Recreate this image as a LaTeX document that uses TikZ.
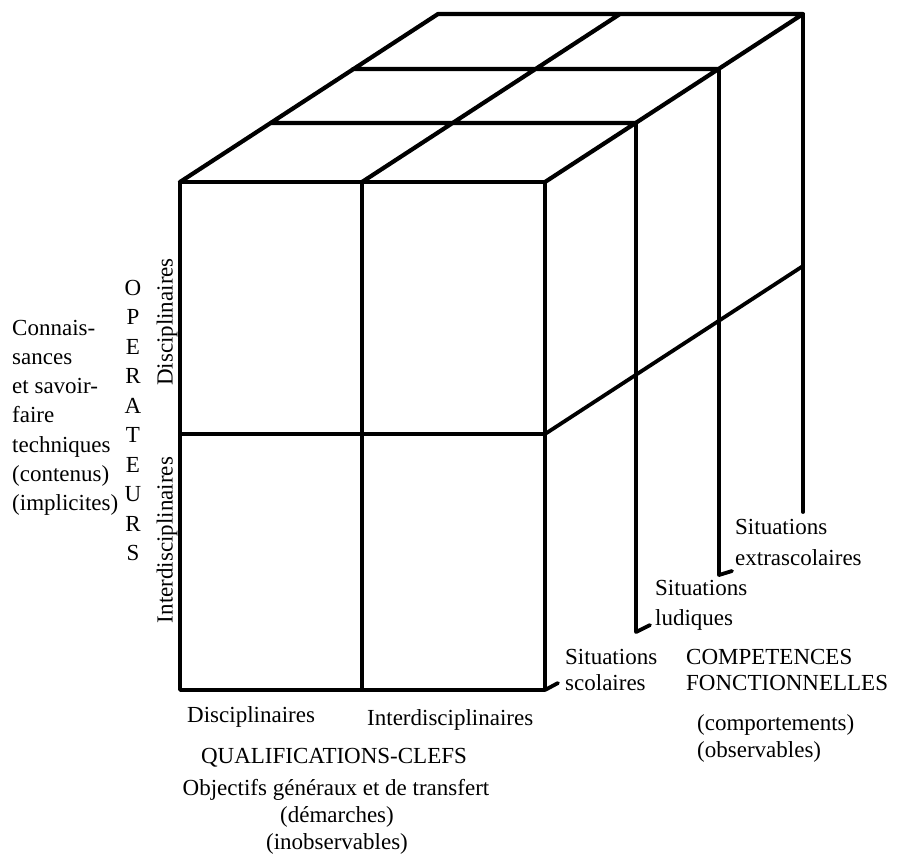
\documentclass[tikz,border=0pt]{standalone}
\usepackage{fontspec}
\setmainfont{Liberation Serif}
\tikzset{
  edge/.style={line width=3.8pt, line cap=round, line join=round},
  lbl/.style={anchor=base west, inner sep=0pt, font=\fontsize{23}{29}\selectfont}
}
\begin{document}
\begin{tikzpicture}[x=1pt,y=-1pt]
\useasboundingbox (0,0) rectangle (899,859);
% front face, 2 x 2
\draw[edge] (180,182) rectangle (545,690);
\draw[edge] (362,182) -- (362,690);
\draw[edge] (180,434) -- (545,434);
% top face
\draw[edge, line width=4.2pt] (180,182) -- (438,14) -- (803,14) -- (545,182)
 (362,182) -- (620,14)
 (271,123) -- (636,123)
 (353,69) -- (719,69);
% right side: the three depths, with the hooks to their labels
\draw[edge] (545,690) -- (558,683);
\draw[edge] (636,123) -- (636,632) -- (650,625);
\draw[edge] (719,69) -- (719,575) -- (732,571);
\draw[edge] (803,14) -- (803,512);
\draw[edge] (545,434) -- (803,266);
% left: operateurs
\foreach \t [count=\i from 0] in {Connais-,sances,et savoir-,faire,techniques,{(contenus)},{(implicites)}}
  \node[lbl] (con\i) at (12,335+29.3*\i) {\t};
\foreach \l [count=\i from 0] in {O,P,E,R,A,T,E,U,R,S}
  \node[lbl, anchor=base] (op\i) at (133,295+29.5*\i) {\l};
\node[lbl, anchor=center, rotate=90] (opd) at (167,322) {Disciplinaires};
\node[lbl, anchor=center, rotate=90] (opi) at (167,540) {Interdisciplinaires};
% bottom: qualifications
\node[lbl] (qd) at (187,722) {Disciplinaires};
\node[lbl] (qi) at (367,725) {Interdisciplinaires};
\node[lbl, anchor=base] (qc) at (334,763) {QUALIFICATIONS-CLEFS};
\node[lbl, anchor=base] (qo) at (336,795) {Objectifs généraux et de transfert};
\node[lbl, anchor=base] (qm) at (337,822) {(démarches)};
\node[lbl, anchor=base] (qn) at (337,849) {(inobservables)};
% right: situations and competences
\node[lbl] (se1) at (735,534) {Situations};
\node[lbl] (se2) at (735,565) {extrascolaires};
\node[lbl] (sl1) at (655,595) {Situations};
\node[lbl] (sl2) at (655,625) {ludiques};
\node[lbl] (ss1) at (565,664) {Situations};
\node[lbl] (ss2) at (565,690) {scolaires};
\node[lbl] (cf1) at (686,664) {COMPETENCES};
\node[lbl] (cf2) at (686,690) {FONCTIONNELLES};
\node[lbl] (cf3) at (697,730) {(comportements)};
\node[lbl] (cf4) at (697,757) {(observables)};
\end{tikzpicture}
\end{document}
